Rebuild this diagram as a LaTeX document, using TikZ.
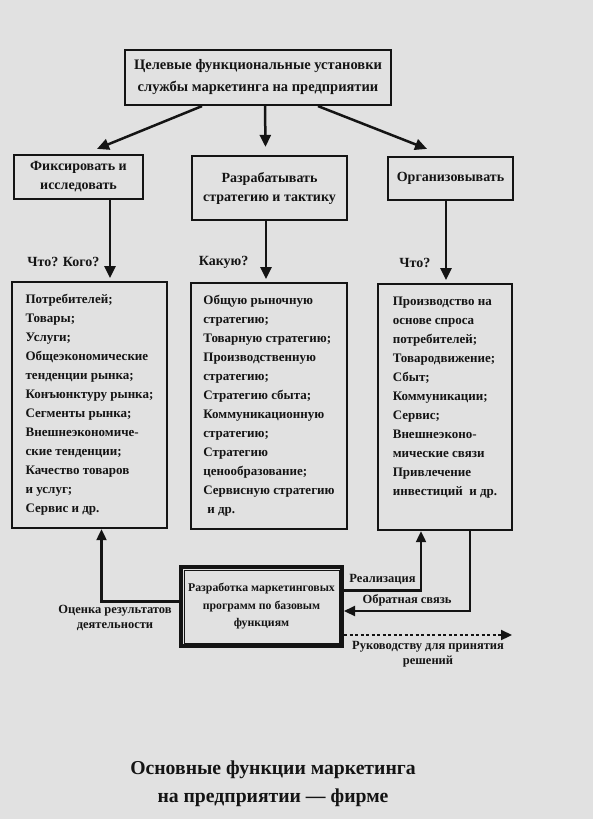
\documentclass[tikz,border=0pt]{standalone}
\usepackage{fontspec}
\setmainfont{Liberation Serif}
\usetikzlibrary{positioning, arrows.meta, calc}
\definecolor{paper}{HTML}{E1E1E1}
\definecolor{ink}{HTML}{141414}

\begin{document}
\begin{tikzpicture}[x=1pt, y=-1pt,
        box/.style={rectangle, draw=ink, line width=2.2pt, align=center, text=ink,
                    inner sep=3pt, font=\bfseries\fontsize{14}{19}\selectfont},
        listbox/.style={box, align=left, minimum height=246pt, anchor=north,
                    font=\bfseries\fontsize{13}{19}\selectfont},
        lbl/.style={font=\bfseries\fontsize{14}{16}\selectfont, text=ink},
        small/.style={font=\bfseries\fontsize{12.5}{15}\selectfont, text=ink, align=center},
        arr/.style={-{Triangle[length=12pt,width=11pt]}, line width=2.5pt, draw=ink},
        link/.style={-{Triangle[length=11pt,width=10pt]}, line width=2.2pt, draw=ink}
      ]
        \fill[paper] (0,0) rectangle (593,819);
        \useasboundingbox (0,0) rectangle (593,819);

        \node[box, minimum width=266pt, minimum height=55pt,
              font=\bfseries\fontsize{14.5}{22}\selectfont] (goal) at (258,77.5)
              {Целевые функциональные установки\\службы маркетинга на предприятии};
        \node[box, minimum width=129pt, minimum height=44pt] (fix) at (78.5,177) {Фиксировать и\\исследовать};
        \node[box, minimum width=155pt, minimum height=64pt] (dev) at (269.5,188) {Разрабатывать\\стратегию и тактику};
        \node[box, minimum width=125pt, minimum height=43pt] (org) at (450.5,178.5) {Организовывать};

        \node[listbox, minimum width=155pt] (what) at (89.5,281)
              {Потребителей;\\Товары;\\Услуги;\\Общеэкономические\\тенденции рынка;\\Конъюнктуру рынка;\\Сегменты рынка;\\Внешнеэкономиче-\\ские тенденции;\\Качество товаров\\и услуг;\\Сервис и др.};
        \node[listbox, minimum width=156pt] (which) at (269,282)
              {Общую рыночную\\стратегию;\\Товарную стратегию;\\Производственную\\стратегию;\\Стратегию сбыта;\\Коммуникационную\\стратегию;\\Стратегию\\ценообразование;\\Сервисную стратегию\\\hspace{4pt}и др.};
        \node[listbox, minimum width=134pt, text depth=22pt] (how) at (445,283)
              {Производство на\\основе спроса\\потребителей;\\Товародвижение;\\Сбыт;\\Коммуникации;\\Сервис;\\Внешнеэконо-\\мические связи\\Привлечение\\инвестиций\ \ и др.};

        \node[box, minimum width=161pt, minimum height=79pt, line width=4pt,
              font=\bfseries\fontsize{11.8}{17.5}\selectfont] (prog) at (261.5,606.5)
              {Разработка маркетинговых\\программ по базовым\\функциям};
        \draw[ink, line width=1pt] ([xshift=5pt,yshift=-5pt]prog.north west) rectangle ([xshift=-5pt,yshift=5pt]prog.south east);

        \draw[arr] ([xshift=-56pt]goal.south) -- ([xshift=18.5pt,yshift=5pt]fix.north);
        \draw[arr] ([xshift=7pt]goal.south) -- ([xshift=-4pt,yshift=8pt]dev.north);
        \draw[arr] ([xshift=60pt]goal.south) -- ([xshift=-23.5pt,yshift=7pt]org.north);

        \draw[arr] ([xshift=31.5pt]fix.south) -- node[lbl, pos=0.8, left=6pt] {Что? Кого?} ([xshift=20.5pt,yshift=3pt]what.north);
        \draw[arr] ([xshift=-3.5pt]dev.south) -- node[lbl, pos=0.72, left=13pt] {Какую?} ([xshift=-3pt,yshift=3pt]which.north);
        \draw[arr] ([xshift=-4.5pt]org.south) -- node[lbl, pos=0.79, left=11pt] {Что?} ([xshift=1pt,yshift=3pt]how.north);

        \draw[link] ([yshift=5pt]prog.west) -| ([xshift=12pt]what.south);
        \node[small] (eval) at (115,618) {Оценка результатов\\деятельности};
        \draw[link] ([yshift=16pt]prog.east) -| node[small, pos=0.25, above=1pt] {Реализация} ([xshift=-24pt]how.south);
        \draw[link] ([xshift=25pt]how.south) |- node[small, pos=0.75, above=0pt] {Обратная связь} ([yshift=-4.5pt]prog.east);

        \coordinate (boss) at (512,635);
        \draw[link, dash pattern=on 3pt off 2.5pt] ([yshift=-28.5pt]prog.east) -- node[small, below=2pt] {Руководству для принятия\\решений} (boss);

        \node[font=\bfseries\fontsize{19.7}{28}\selectfont, text=ink, align=center] (title) at (273,784)
              {Основные функции маркетинга\\на предприятии — фирме};
      \end{tikzpicture}
\end{document}
